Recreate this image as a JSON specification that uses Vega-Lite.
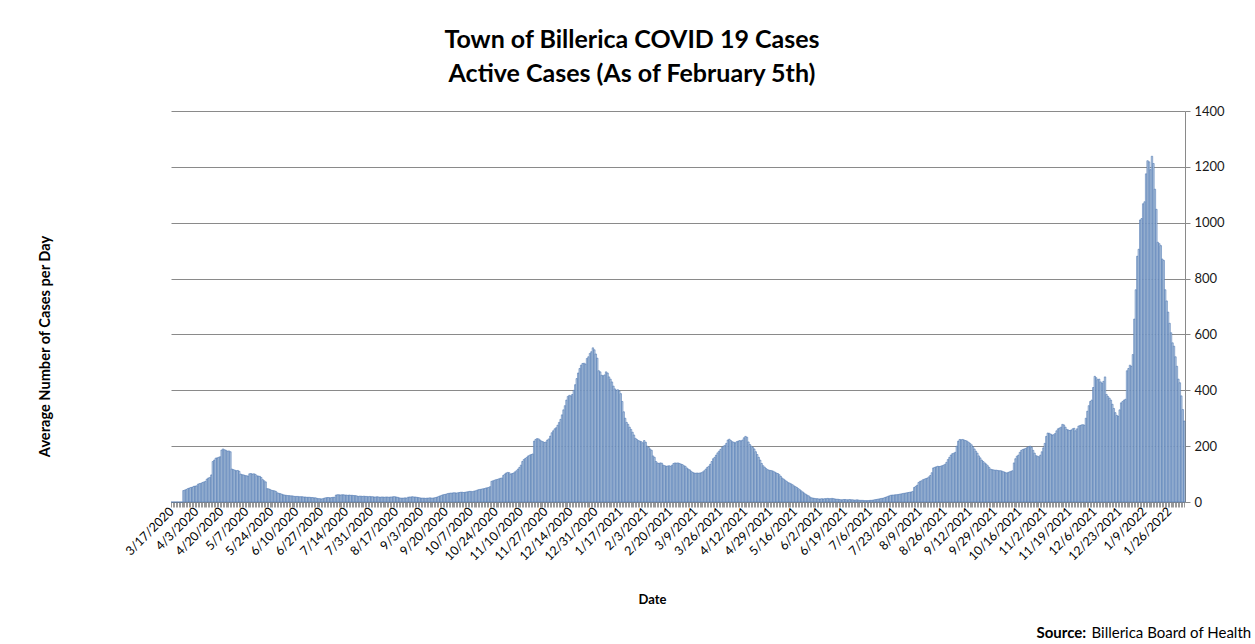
{
"$schema": "https://vega.github.io/schema/vega-lite/v6.json",
"width": 1014, "height": 391,
"autosize": {"type": "none"},
"padding": {"left": 171, "top": 111, "right": 70, "bottom": 142},
"background": "white",
"config": {"view": {"stroke": null}, "font": "Lato"},
"title": {"text": ["Town of Billerica COVID 19 Cases", "Active Cases (As of February 5th)"], "font": "Lato", "fontSize": 25, "fontWeight": "bold", "color": "#000000", "anchor": "middle", "dx": -46, "dy": 4, "lineHeight": 34, "offset": 22},
"data": {"values": [
{"d":"3/17/2020","v":0},{"d":"3/18/2020","v":0},{"d":"3/19/2020","v":0},{"d":"3/20/2020","v":0},{"d":"3/21/2020","v":0},{"d":"3/22/2020","v":0},{"d":"3/23/2020","v":0},{"d":"3/24/2020","v":0},{"d":"3/25/2020","v":41},{"d":"3/26/2020","v":43},{"d":"3/27/2020","v":45},{"d":"3/28/2020","v":48},{"d":"3/29/2020","v":50},{"d":"3/30/2020","v":52},{"d":"3/31/2020","v":53},
{"d":"4/1/2020","v":56},{"d":"4/2/2020","v":57},{"d":"4/3/2020","v":58},{"d":"4/4/2020","v":64},{"d":"4/5/2020","v":66},{"d":"4/6/2020","v":67},{"d":"4/7/2020","v":70},{"d":"4/8/2020","v":72},{"d":"4/9/2020","v":74},{"d":"4/10/2020","v":82},{"d":"4/11/2020","v":86},{"d":"4/12/2020","v":88},{"d":"4/13/2020","v":97},{"d":"4/14/2020","v":145},{"d":"4/15/2020","v":150},{"d":"4/16/2020","v":157},{"d":"4/17/2020","v":158},{"d":"4/18/2020","v":160},{"d":"4/19/2020","v":162},{"d":"4/20/2020","v":186},{"d":"4/21/2020","v":190},{"d":"4/22/2020","v":187},{"d":"4/23/2020","v":185},{"d":"4/24/2020","v":182},{"d":"4/25/2020","v":183},{"d":"4/26/2020","v":180},{"d":"4/27/2020","v":118},{"d":"4/28/2020","v":116},{"d":"4/29/2020","v":114},{"d":"4/30/2020","v":112},
{"d":"5/1/2020","v":113},{"d":"5/2/2020","v":110},{"d":"5/3/2020","v":100},{"d":"5/4/2020","v":98},{"d":"5/5/2020","v":97},{"d":"5/6/2020","v":95},{"d":"5/7/2020","v":94},{"d":"5/8/2020","v":93},{"d":"5/9/2020","v":101},{"d":"5/10/2020","v":102},{"d":"5/11/2020","v":100},{"d":"5/12/2020","v":101},{"d":"5/13/2020","v":99},{"d":"5/14/2020","v":94},{"d":"5/15/2020","v":93},{"d":"5/16/2020","v":92},{"d":"5/17/2020","v":88},{"d":"5/18/2020","v":80},{"d":"5/19/2020","v":76},{"d":"5/20/2020","v":72},{"d":"5/21/2020","v":48},{"d":"5/22/2020","v":47},{"d":"5/23/2020","v":45},{"d":"5/24/2020","v":42},{"d":"5/25/2020","v":41},{"d":"5/26/2020","v":40},{"d":"5/27/2020","v":38},{"d":"5/28/2020","v":33},{"d":"5/29/2020","v":31},{"d":"5/30/2020","v":30},{"d":"5/31/2020","v":28},
{"d":"6/1/2020","v":26},{"d":"6/2/2020","v":25},{"d":"6/3/2020","v":24},{"d":"6/4/2020","v":23},{"d":"6/5/2020","v":23},{"d":"6/6/2020","v":22},{"d":"6/7/2020","v":22},{"d":"6/8/2020","v":21},{"d":"6/9/2020","v":20},{"d":"6/10/2020","v":20},{"d":"6/11/2020","v":20},{"d":"6/12/2020","v":19},{"d":"6/13/2020","v":19},{"d":"6/14/2020","v":19},{"d":"6/15/2020","v":18},{"d":"6/16/2020","v":18},{"d":"6/17/2020","v":17},{"d":"6/18/2020","v":17},{"d":"6/19/2020","v":17},{"d":"6/20/2020","v":16},{"d":"6/21/2020","v":16},{"d":"6/22/2020","v":15},{"d":"6/23/2020","v":15},{"d":"6/24/2020","v":13},{"d":"6/25/2020","v":12},{"d":"6/26/2020","v":12},{"d":"6/27/2020","v":11},{"d":"6/28/2020","v":12},{"d":"6/29/2020","v":14},{"d":"6/30/2020","v":15},
{"d":"7/1/2020","v":16},{"d":"7/2/2020","v":16},{"d":"7/3/2020","v":15},{"d":"7/4/2020","v":16},{"d":"7/5/2020","v":17},{"d":"7/6/2020","v":17},{"d":"7/7/2020","v":25},{"d":"7/8/2020","v":26},{"d":"7/9/2020","v":26},{"d":"7/10/2020","v":25},{"d":"7/11/2020","v":26},{"d":"7/12/2020","v":26},{"d":"7/13/2020","v":25},{"d":"7/14/2020","v":25},{"d":"7/15/2020","v":24},{"d":"7/16/2020","v":25},{"d":"7/17/2020","v":24},{"d":"7/18/2020","v":24},{"d":"7/19/2020","v":23},{"d":"7/20/2020","v":23},{"d":"7/21/2020","v":22},{"d":"7/22/2020","v":20},{"d":"7/23/2020","v":21},{"d":"7/24/2020","v":21},{"d":"7/25/2020","v":20},{"d":"7/26/2020","v":21},{"d":"7/27/2020","v":20},{"d":"7/28/2020","v":20},{"d":"7/29/2020","v":19},{"d":"7/30/2020","v":20},{"d":"7/31/2020","v":19},
{"d":"8/1/2020","v":19},{"d":"8/2/2020","v":18},{"d":"8/3/2020","v":18},{"d":"8/4/2020","v":19},{"d":"8/5/2020","v":18},{"d":"8/6/2020","v":17},{"d":"8/7/2020","v":18},{"d":"8/8/2020","v":18},{"d":"8/9/2020","v":17},{"d":"8/10/2020","v":18},{"d":"8/11/2020","v":18},{"d":"8/12/2020","v":17},{"d":"8/13/2020","v":18},{"d":"8/14/2020","v":18},{"d":"8/15/2020","v":19},{"d":"8/16/2020","v":19},{"d":"8/17/2020","v":18},{"d":"8/18/2020","v":17},{"d":"8/19/2020","v":15},{"d":"8/20/2020","v":14},{"d":"8/21/2020","v":14},{"d":"8/22/2020","v":14},{"d":"8/23/2020","v":15},{"d":"8/24/2020","v":14},{"d":"8/25/2020","v":17},{"d":"8/26/2020","v":18},{"d":"8/27/2020","v":18},{"d":"8/28/2020","v":19},{"d":"8/29/2020","v":18},{"d":"8/30/2020","v":18},{"d":"8/31/2020","v":17},
{"d":"9/1/2020","v":16},{"d":"9/2/2020","v":15},{"d":"9/3/2020","v":14},{"d":"9/4/2020","v":14},{"d":"9/5/2020","v":14},{"d":"9/6/2020","v":13},{"d":"9/7/2020","v":14},{"d":"9/8/2020","v":14},{"d":"9/9/2020","v":15},{"d":"9/10/2020","v":14},{"d":"9/11/2020","v":14},{"d":"9/12/2020","v":15},{"d":"9/13/2020","v":16},{"d":"9/14/2020","v":18},{"d":"9/15/2020","v":20},{"d":"9/16/2020","v":22},{"d":"9/17/2020","v":24},{"d":"9/18/2020","v":26},{"d":"9/19/2020","v":27},{"d":"9/20/2020","v":28},{"d":"9/21/2020","v":30},{"d":"9/22/2020","v":31},{"d":"9/23/2020","v":32},{"d":"9/24/2020","v":32},{"d":"9/25/2020","v":33},{"d":"9/26/2020","v":33},{"d":"9/27/2020","v":32},{"d":"9/28/2020","v":33},{"d":"9/29/2020","v":34},{"d":"9/30/2020","v":35},
{"d":"10/1/2020","v":35},{"d":"10/2/2020","v":34},{"d":"10/3/2020","v":35},{"d":"10/4/2020","v":36},{"d":"10/5/2020","v":37},{"d":"10/6/2020","v":38},{"d":"10/7/2020","v":38},{"d":"10/8/2020","v":37},{"d":"10/9/2020","v":39},{"d":"10/10/2020","v":40},{"d":"10/11/2020","v":42},{"d":"10/12/2020","v":44},{"d":"10/13/2020","v":45},{"d":"10/14/2020","v":46},{"d":"10/15/2020","v":47},{"d":"10/16/2020","v":48},{"d":"10/17/2020","v":50},{"d":"10/18/2020","v":51},{"d":"10/19/2020","v":52},{"d":"10/20/2020","v":55},{"d":"10/21/2020","v":74},{"d":"10/22/2020","v":76},{"d":"10/23/2020","v":78},{"d":"10/24/2020","v":80},{"d":"10/25/2020","v":81},{"d":"10/26/2020","v":83},{"d":"10/27/2020","v":85},{"d":"10/28/2020","v":86},{"d":"10/29/2020","v":95},{"d":"10/30/2020","v":100},{"d":"10/31/2020","v":104},
{"d":"11/1/2020","v":106},{"d":"11/2/2020","v":105},{"d":"11/3/2020","v":100},{"d":"11/4/2020","v":102},{"d":"11/5/2020","v":104},{"d":"11/6/2020","v":108},{"d":"11/7/2020","v":112},{"d":"11/8/2020","v":118},{"d":"11/9/2020","v":124},{"d":"11/10/2020","v":132},{"d":"11/11/2020","v":145},{"d":"11/12/2020","v":152},{"d":"11/13/2020","v":156},{"d":"11/14/2020","v":160},{"d":"11/15/2020","v":165},{"d":"11/16/2020","v":168},{"d":"11/17/2020","v":170},{"d":"11/18/2020","v":172},{"d":"11/19/2020","v":218},{"d":"11/20/2020","v":224},{"d":"11/21/2020","v":227},{"d":"11/22/2020","v":226},{"d":"11/23/2020","v":222},{"d":"11/24/2020","v":218},{"d":"11/25/2020","v":216},{"d":"11/26/2020","v":213},{"d":"11/27/2020","v":215},{"d":"11/28/2020","v":222},{"d":"11/29/2020","v":226},{"d":"11/30/2020","v":236},
{"d":"12/1/2020","v":248},{"d":"12/2/2020","v":255},{"d":"12/3/2020","v":262},{"d":"12/4/2020","v":266},{"d":"12/5/2020","v":275},{"d":"12/6/2020","v":285},{"d":"12/7/2020","v":296},{"d":"12/8/2020","v":312},{"d":"12/9/2020","v":330},{"d":"12/10/2020","v":345},{"d":"12/11/2020","v":365},{"d":"12/12/2020","v":378},{"d":"12/13/2020","v":382},{"d":"12/14/2020","v":380},{"d":"12/15/2020","v":385},{"d":"12/16/2020","v":400},{"d":"12/17/2020","v":420},{"d":"12/18/2020","v":442},{"d":"12/19/2020","v":462},{"d":"12/20/2020","v":478},{"d":"12/21/2020","v":490},{"d":"12/22/2020","v":496},{"d":"12/23/2020","v":497},{"d":"12/24/2020","v":494},{"d":"12/25/2020","v":514},{"d":"12/26/2020","v":520},{"d":"12/27/2020","v":532},{"d":"12/28/2020","v":538},{"d":"12/29/2020","v":552},{"d":"12/30/2020","v":545},{"d":"12/31/2020","v":530},
{"d":"1/1/2021","v":515},{"d":"1/2/2021","v":470},{"d":"1/3/2021","v":466},{"d":"1/4/2021","v":454},{"d":"1/5/2021","v":452},{"d":"1/6/2021","v":455},{"d":"1/7/2021","v":466},{"d":"1/8/2021","v":462},{"d":"1/9/2021","v":448},{"d":"1/10/2021","v":440},{"d":"1/11/2021","v":430},{"d":"1/12/2021","v":415},{"d":"1/13/2021","v":405},{"d":"1/14/2021","v":400},{"d":"1/15/2021","v":402},{"d":"1/16/2021","v":398},{"d":"1/17/2021","v":388},{"d":"1/18/2021","v":360},{"d":"1/19/2021","v":323},{"d":"1/20/2021","v":300},{"d":"1/21/2021","v":285},{"d":"1/22/2021","v":278},{"d":"1/23/2021","v":268},{"d":"1/24/2021","v":260},{"d":"1/25/2021","v":250},{"d":"1/26/2021","v":240},{"d":"1/27/2021","v":228},{"d":"1/28/2021","v":224},{"d":"1/29/2021","v":220},{"d":"1/30/2021","v":218},{"d":"1/31/2021","v":216},
{"d":"2/1/2021","v":212},{"d":"2/2/2021","v":220},{"d":"2/3/2021","v":214},{"d":"2/4/2021","v":200},{"d":"2/5/2021","v":196},{"d":"2/6/2021","v":190},{"d":"2/7/2021","v":185},{"d":"2/8/2021","v":165},{"d":"2/9/2021","v":160},{"d":"2/10/2021","v":145},{"d":"2/11/2021","v":140},{"d":"2/12/2021","v":138},{"d":"2/13/2021","v":140},{"d":"2/14/2021","v":139},{"d":"2/15/2021","v":132},{"d":"2/16/2021","v":130},{"d":"2/17/2021","v":128},{"d":"2/18/2021","v":129},{"d":"2/19/2021","v":130},{"d":"2/20/2021","v":128},{"d":"2/21/2021","v":132},{"d":"2/22/2021","v":138},{"d":"2/23/2021","v":140},{"d":"2/24/2021","v":139},{"d":"2/25/2021","v":140},{"d":"2/26/2021","v":138},{"d":"2/27/2021","v":136},{"d":"2/28/2021","v":134},
{"d":"3/1/2021","v":130},{"d":"3/2/2021","v":128},{"d":"3/3/2021","v":122},{"d":"3/4/2021","v":118},{"d":"3/5/2021","v":115},{"d":"3/6/2021","v":110},{"d":"3/7/2021","v":106},{"d":"3/8/2021","v":104},{"d":"3/9/2021","v":103},{"d":"3/10/2021","v":104},{"d":"3/11/2021","v":103},{"d":"3/12/2021","v":104},{"d":"3/13/2021","v":105},{"d":"3/14/2021","v":108},{"d":"3/15/2021","v":112},{"d":"3/16/2021","v":118},{"d":"3/17/2021","v":124},{"d":"3/18/2021","v":128},{"d":"3/19/2021","v":135},{"d":"3/20/2021","v":145},{"d":"3/21/2021","v":155},{"d":"3/22/2021","v":160},{"d":"3/23/2021","v":168},{"d":"3/24/2021","v":176},{"d":"3/25/2021","v":182},{"d":"3/26/2021","v":188},{"d":"3/27/2021","v":195},{"d":"3/28/2021","v":200},{"d":"3/29/2021","v":203},{"d":"3/30/2021","v":210},{"d":"3/31/2021","v":222},
{"d":"4/1/2021","v":225},{"d":"4/2/2021","v":220},{"d":"4/3/2021","v":216},{"d":"4/4/2021","v":214},{"d":"4/5/2021","v":212},{"d":"4/6/2021","v":216},{"d":"4/7/2021","v":218},{"d":"4/8/2021","v":220},{"d":"4/9/2021","v":219},{"d":"4/10/2021","v":222},{"d":"4/11/2021","v":230},{"d":"4/12/2021","v":235},{"d":"4/13/2021","v":232},{"d":"4/14/2021","v":215},{"d":"4/15/2021","v":206},{"d":"4/16/2021","v":200},{"d":"4/17/2021","v":195},{"d":"4/18/2021","v":190},{"d":"4/19/2021","v":180},{"d":"4/20/2021","v":170},{"d":"4/21/2021","v":160},{"d":"4/22/2021","v":150},{"d":"4/23/2021","v":138},{"d":"4/24/2021","v":130},{"d":"4/25/2021","v":125},{"d":"4/26/2021","v":120},{"d":"4/27/2021","v":116},{"d":"4/28/2021","v":114},{"d":"4/29/2021","v":113},{"d":"4/30/2021","v":112},
{"d":"5/1/2021","v":110},{"d":"5/2/2021","v":107},{"d":"5/3/2021","v":104},{"d":"5/4/2021","v":102},{"d":"5/5/2021","v":98},{"d":"5/6/2021","v":92},{"d":"5/7/2021","v":86},{"d":"5/8/2021","v":82},{"d":"5/9/2021","v":78},{"d":"5/10/2021","v":74},{"d":"5/11/2021","v":70},{"d":"5/12/2021","v":68},{"d":"5/13/2021","v":65},{"d":"5/14/2021","v":62},{"d":"5/15/2021","v":58},{"d":"5/16/2021","v":55},{"d":"5/17/2021","v":52},{"d":"5/18/2021","v":48},{"d":"5/19/2021","v":44},{"d":"5/20/2021","v":40},{"d":"5/21/2021","v":36},{"d":"5/22/2021","v":32},{"d":"5/23/2021","v":28},{"d":"5/24/2021","v":25},{"d":"5/25/2021","v":22},{"d":"5/26/2021","v":18},{"d":"5/27/2021","v":15},{"d":"5/28/2021","v":14},{"d":"5/29/2021","v":13},{"d":"5/30/2021","v":12},{"d":"5/31/2021","v":12},
{"d":"6/1/2021","v":11},{"d":"6/2/2021","v":11},{"d":"6/3/2021","v":12},{"d":"6/4/2021","v":11},{"d":"6/5/2021","v":12},{"d":"6/6/2021","v":12},{"d":"6/7/2021","v":13},{"d":"6/8/2021","v":12},{"d":"6/9/2021","v":12},{"d":"6/10/2021","v":13},{"d":"6/11/2021","v":12},{"d":"6/12/2021","v":11},{"d":"6/13/2021","v":10},{"d":"6/14/2021","v":10},{"d":"6/15/2021","v":9},{"d":"6/16/2021","v":8},{"d":"6/17/2021","v":8},{"d":"6/18/2021","v":9},{"d":"6/19/2021","v":9},{"d":"6/20/2021","v":8},{"d":"6/21/2021","v":8},{"d":"6/22/2021","v":9},{"d":"6/23/2021","v":8},{"d":"6/24/2021","v":8},{"d":"6/25/2021","v":7},{"d":"6/26/2021","v":7},{"d":"6/27/2021","v":8},{"d":"6/28/2021","v":7},{"d":"6/29/2021","v":6},{"d":"6/30/2021","v":6},
{"d":"7/1/2021","v":6},{"d":"7/2/2021","v":5},{"d":"7/3/2021","v":5},{"d":"7/4/2021","v":5},{"d":"7/5/2021","v":5},{"d":"7/6/2021","v":6},{"d":"7/7/2021","v":6},{"d":"7/8/2021","v":7},{"d":"7/9/2021","v":8},{"d":"7/10/2021","v":9},{"d":"7/11/2021","v":10},{"d":"7/12/2021","v":11},{"d":"7/13/2021","v":12},{"d":"7/14/2021","v":13},{"d":"7/15/2021","v":14},{"d":"7/16/2021","v":16},{"d":"7/17/2021","v":18},{"d":"7/18/2021","v":20},{"d":"7/19/2021","v":22},{"d":"7/20/2021","v":24},{"d":"7/21/2021","v":25},{"d":"7/22/2021","v":25},{"d":"7/23/2021","v":26},{"d":"7/24/2021","v":26},{"d":"7/25/2021","v":27},{"d":"7/26/2021","v":28},{"d":"7/27/2021","v":29},{"d":"7/28/2021","v":30},{"d":"7/29/2021","v":31},{"d":"7/30/2021","v":32},{"d":"7/31/2021","v":33},
{"d":"8/1/2021","v":34},{"d":"8/2/2021","v":35},{"d":"8/3/2021","v":36},{"d":"8/4/2021","v":38},{"d":"8/5/2021","v":52},{"d":"8/6/2021","v":56},{"d":"8/7/2021","v":60},{"d":"8/8/2021","v":70},{"d":"8/9/2021","v":74},{"d":"8/10/2021","v":76},{"d":"8/11/2021","v":80},{"d":"8/12/2021","v":82},{"d":"8/13/2021","v":84},{"d":"8/14/2021","v":86},{"d":"8/15/2021","v":90},{"d":"8/16/2021","v":95},{"d":"8/17/2021","v":105},{"d":"8/18/2021","v":122},{"d":"8/19/2021","v":124},{"d":"8/20/2021","v":126},{"d":"8/21/2021","v":128},{"d":"8/22/2021","v":127},{"d":"8/23/2021","v":128},{"d":"8/24/2021","v":130},{"d":"8/25/2021","v":132},{"d":"8/26/2021","v":135},{"d":"8/27/2021","v":142},{"d":"8/28/2021","v":152},{"d":"8/29/2021","v":160},{"d":"8/30/2021","v":168},{"d":"8/31/2021","v":173},
{"d":"9/1/2021","v":175},{"d":"9/2/2021","v":178},{"d":"9/3/2021","v":200},{"d":"9/4/2021","v":218},{"d":"9/5/2021","v":224},{"d":"9/6/2021","v":223},{"d":"9/7/2021","v":224},{"d":"9/8/2021","v":222},{"d":"9/9/2021","v":220},{"d":"9/10/2021","v":218},{"d":"9/11/2021","v":214},{"d":"9/12/2021","v":210},{"d":"9/13/2021","v":205},{"d":"9/14/2021","v":198},{"d":"9/15/2021","v":190},{"d":"9/16/2021","v":182},{"d":"9/17/2021","v":175},{"d":"9/18/2021","v":165},{"d":"9/19/2021","v":158},{"d":"9/20/2021","v":150},{"d":"9/21/2021","v":145},{"d":"9/22/2021","v":140},{"d":"9/23/2021","v":136},{"d":"9/24/2021","v":130},{"d":"9/25/2021","v":124},{"d":"9/26/2021","v":118},{"d":"9/27/2021","v":116},{"d":"9/28/2021","v":115},{"d":"9/29/2021","v":114},{"d":"9/30/2021","v":114},
{"d":"10/1/2021","v":113},{"d":"10/2/2021","v":112},{"d":"10/3/2021","v":112},{"d":"10/4/2021","v":110},{"d":"10/5/2021","v":108},{"d":"10/6/2021","v":106},{"d":"10/7/2021","v":104},{"d":"10/8/2021","v":106},{"d":"10/9/2021","v":108},{"d":"10/10/2021","v":110},{"d":"10/11/2021","v":112},{"d":"10/12/2021","v":140},{"d":"10/13/2021","v":155},{"d":"10/14/2021","v":164},{"d":"10/15/2021","v":168},{"d":"10/16/2021","v":178},{"d":"10/17/2021","v":185},{"d":"10/18/2021","v":188},{"d":"10/19/2021","v":190},{"d":"10/20/2021","v":192},{"d":"10/21/2021","v":195},{"d":"10/22/2021","v":198},{"d":"10/23/2021","v":200},{"d":"10/24/2021","v":196},{"d":"10/25/2021","v":185},{"d":"10/26/2021","v":175},{"d":"10/27/2021","v":166},{"d":"10/28/2021","v":164},{"d":"10/29/2021","v":162},{"d":"10/30/2021","v":168},{"d":"10/31/2021","v":180},
{"d":"11/1/2021","v":194},{"d":"11/2/2021","v":210},{"d":"11/3/2021","v":235},{"d":"11/4/2021","v":247},{"d":"11/5/2021","v":246},{"d":"11/6/2021","v":243},{"d":"11/7/2021","v":240},{"d":"11/8/2021","v":241},{"d":"11/9/2021","v":245},{"d":"11/10/2021","v":255},{"d":"11/11/2021","v":262},{"d":"11/12/2021","v":265},{"d":"11/13/2021","v":268},{"d":"11/14/2021","v":278},{"d":"11/15/2021","v":276},{"d":"11/16/2021","v":268},{"d":"11/17/2021","v":260},{"d":"11/18/2021","v":258},{"d":"11/19/2021","v":256},{"d":"11/20/2021","v":258},{"d":"11/21/2021","v":262},{"d":"11/22/2021","v":264},{"d":"11/23/2021","v":255},{"d":"11/24/2021","v":262},{"d":"11/25/2021","v":272},{"d":"11/26/2021","v":274},{"d":"11/27/2021","v":276},{"d":"11/28/2021","v":277},{"d":"11/29/2021","v":275},{"d":"11/30/2021","v":300},
{"d":"12/1/2021","v":325},{"d":"12/2/2021","v":345},{"d":"12/3/2021","v":360},{"d":"12/4/2021","v":365},{"d":"12/5/2021","v":410},{"d":"12/6/2021","v":450},{"d":"12/7/2021","v":445},{"d":"12/8/2021","v":438},{"d":"12/9/2021","v":440},{"d":"12/10/2021","v":430},{"d":"12/11/2021","v":425},{"d":"12/12/2021","v":432},{"d":"12/13/2021","v":448},{"d":"12/14/2021","v":385},{"d":"12/15/2021","v":378},{"d":"12/16/2021","v":372},{"d":"12/17/2021","v":365},{"d":"12/18/2021","v":350},{"d":"12/19/2021","v":335},{"d":"12/20/2021","v":320},{"d":"12/21/2021","v":310},{"d":"12/22/2021","v":307},{"d":"12/23/2021","v":330},{"d":"12/24/2021","v":355},{"d":"12/25/2021","v":360},{"d":"12/26/2021","v":365},{"d":"12/27/2021","v":368},{"d":"12/28/2021","v":470},{"d":"12/29/2021","v":478},{"d":"12/30/2021","v":490},{"d":"12/31/2021","v":486},
{"d":"1/1/2022","v":528},{"d":"1/2/2022","v":655},{"d":"1/3/2022","v":760},{"d":"1/4/2022","v":880},{"d":"1/5/2022","v":905},{"d":"1/6/2022","v":1010},{"d":"1/7/2022","v":1015},{"d":"1/8/2022","v":1068},{"d":"1/9/2022","v":1075},{"d":"1/10/2022","v":1175},{"d":"1/11/2022","v":1222},{"d":"1/12/2022","v":1218},{"d":"1/13/2022","v":1190},{"d":"1/14/2022","v":1238},{"d":"1/15/2022","v":1212},{"d":"1/16/2022","v":1120},{"d":"1/17/2022","v":1048},{"d":"1/18/2022","v":930},{"d":"1/19/2022","v":925},{"d":"1/20/2022","v":918},{"d":"1/21/2022","v":870},{"d":"1/22/2022","v":865},{"d":"1/23/2022","v":760},{"d":"1/24/2022","v":720},{"d":"1/25/2022","v":680},{"d":"1/26/2022","v":640},{"d":"1/27/2022","v":606},{"d":"1/28/2022","v":570},{"d":"1/29/2022","v":558},{"d":"1/30/2022","v":520},{"d":"1/31/2022","v":486},
{"d":"2/1/2022","v":440},{"d":"2/2/2022","v":427},{"d":"2/3/2022","v":380},{"d":"2/4/2022","v":331},{"d":"2/5/2022","v":290}
]},
"layer": [
{"mark": {"type": "bar", "fill": "#bccde0", "stroke": "#3a69aa", "strokeWidth": 0.5},
 "encoding": {
  "x": {"field": "d", "type": "ordinal", "sort": null, "scale": {"paddingInner": 0, "paddingOuter": 0},
   "axis": {"title": "Date", "titleFont": "Lato", "titleFontSize": 13, "titleFontWeight": "bold", "titleColor": "#000000", "titleX": 481, "titleY": 97, "titleAlign": "center", "titleBaseline": "middle",
    "labelExpr": "(round((toDate(datum.value) - toDate('3/17/2020'))/86400000) % 17 == 0) ? datum.value : ''",
    "labelOverlap": false, "labelBound": false, "labelAngle": -45, "labelAlign": "right", "labelBaseline": "middle", "labelPadding": 2, "labelFont": "Lato", "labelFontSize": 12.5, "labelColor": "#000000",
    "ticks": true, "tickSize": 5, "tickColor": "#9a9a9a", "tickWidth": 1, "domain": true, "domainColor": "#8a8a8a", "grid": false}},
  "y": {"field": "v", "type": "quantitative", "scale": {"domain": [0, 1400], "nice": false},
   "axis": {"orient": "right", "values": [0, 200, 400, 600, 800, 1000, 1200, 1400], "format": "d", "title": "Average Number of Cases per Day", "titleAngle": 270, "titleX": -1140, "titleY": 235, "titleAlign": "center", "titleBaseline": "middle", "titleFont": "Lato", "titleFontSize": 14.6, "titleFontWeight": "bold", "titleColor": "#000000",
    "labelFont": "Lato", "labelFontSize": 13, "labelColor": "#1a1a1a", "labelPadding": 4, "tickSize": 5, "tickColor": "#8a8a8a", "domain": true, "domainColor": "#8a8a8a", "grid": true, "gridColor": "#8a8a8a", "gridWidth": 1}}
 }},
{"mark": {"type": "bar", "opacity": 0},
 "encoding": {
  "x": {"field": "d", "type": "ordinal", "sort": null,
   "axis": {"orient": "top", "labels": false, "ticks": false, "domain": false, "grid": false, "title": "Source:", "titleX": 865, "titleY": 521, "titleAlign": "left", "titleBaseline": "middle", "titleFont": "Lato", "titleFontSize": 15, "titleFontWeight": "bold", "titleColor": "#000000"}},
  "y": {"field": "v", "type": "quantitative",
   "axis": {"orient": "left", "labels": false, "ticks": false, "domain": false, "grid": false, "title": "Billerica Board of Health", "titleAngle": 0, "titleX": 920, "titleY": 521, "titleAlign": "left", "titleBaseline": "middle", "titleFont": "Lato", "titleFontSize": 15, "titleFontWeight": "normal", "titleColor": "#000000"}}
 }}
],
"resolve": {"axis": {"x": "independent", "y": "independent"}}
}
